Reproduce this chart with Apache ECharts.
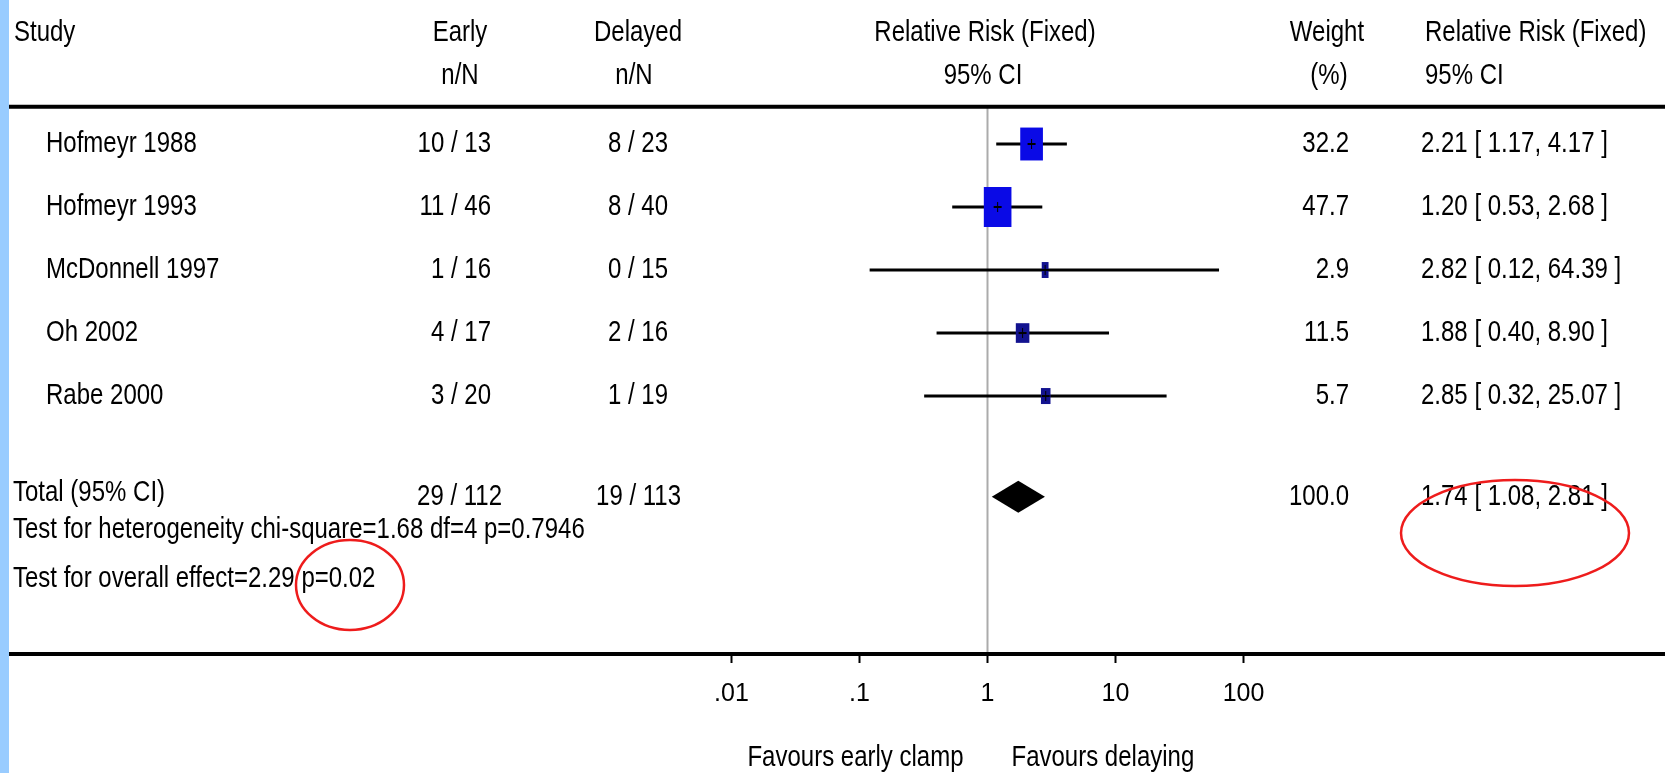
<!DOCTYPE html>
<html><head><meta charset="utf-8">
<script src="https://cdn.jsdelivr.net/npm/echarts@6/dist/echarts.min.js"></script>
<style>html,body{margin:0;padding:0;background:#fff}#c{width:1665px;height:773px}</style>
</head><body><div id="c"></div>
<script>
// ---- data ----
const studies = ['Hofmeyr 1988', 'Hofmeyr 1993', 'McDonnell 1997', 'Oh 2002', 'Rabe 2000'];
const earlyN = ['10 / 13', '11 / 46', '1 / 16', '4 / 17', '3 / 20'];
const delayedN = ['8 / 23', '8 / 40', '0 / 15', '2 / 16', '1 / 19'];
const rr = [2.21, 1.20, 2.82, 1.88, 2.85];
const rrLow = [1.17, 0.53, 0.12, 0.40, 0.32];
const rrHigh = [4.17, 2.68, 64.39, 8.90, 25.07];
const weights = [32.2, 47.7, 2.9, 11.5, 5.7];
const totalLabel = 'Total (95% CI)';
const totalEarly = '29 / 112';
const totalDelayed = '19 / 113';
const totalRR = [1.74];
const totalLow = [1.08];
const totalHigh = [2.81];
const totalWeight = [100.0];
const heterogeneityText = 'Test for heterogeneity chi-square=1.68 df=4 p=0.7946';
const overallText = 'Test for overall effect=2.29 p=0.02';
const headerRow1 = ['Study', 'Early', 'Delayed', 'Relative Risk (Fixed)', 'Weight', 'Relative Risk (Fixed)'];
const headerRow2 = ['', 'n/N', 'n/N', '95% CI', '(%)', '95% CI'];
const tickValues = [0.01, 0.1, 1, 10, 100];
const tickLabels = ['.01', '.1', '1', '10', '100'];
const favoursLeft = 'Favours early clamp';
const favoursRight = 'Favours delaying';

// ---- layout ----
const FAMILY = "'Liberation Sans', Arial, sans-serif";
const FONT = "24px " + FAMILY;
const TEXT_SCALE_Y = 1.2;
const ROW_TOTAL = studies.length + 0.6;
const ROW_HET = 6.12, ROW_OVR = 6.9, ROW_H1 = -1.76, ROW_H2 = -1.08, ROW_TOPRULE = -0.59, ROW_BOTRULE = 8.11;
const fmt2 = v => v.toFixed(2);
const ciText = (e, l, h) => fmt2(e) + ' [ ' + fmt2(l) + ', ' + fmt2(h) + ' ]';

function txt(x, y, s, align) {
  return {type: 'text', x: x, y: y, scaleY: TEXT_SCALE_Y, silent: true,
    style: {text: s, font: FONT, fill: '#000', align: align || 'left', verticalAlign: 'middle',
            textAlign: align || 'left', textVerticalAlign: 'middle'}};
}

const chart = echarts.init(document.getElementById('c'), null, {renderer: 'canvas'});

const studyData = studies.map((s, i) => [rr[i], i, rrLow[i], rrHigh[i], weights[i]]);

const option = {
  animation: false,
  backgroundColor: '#fff',
  grid: {left: 731.5, right: 421.5, top: 18, bottom: 118, containLabel: false},
  xAxis: {
    type: 'log', logBase: 10, min: 0.01, max: 100,
    axisLine: {show: false, onZero: false},
    splitLine: {show: false},
    axisTick: {show: false},
    axisLabel: {
      margin: 27, color: '#000', fontSize: 25, fontFamily: FAMILY,
      formatter: v => tickLabels[Math.round(Math.log10(v)) + 2]
    }
  },
  yAxis: {type: 'value', inverse: true, min: -2, max: ROW_BOTRULE, show: false},
  series: [
    { // frame rules, axis ticks and reference line at RR = 1
      type: 'custom', silent: true, z: 1,
      data: [[1, 0]],
      renderItem: (params, api) => {
        const yTop = api.coord([1, ROW_TOPRULE])[1];
        const yBot = api.coord([1, ROW_BOTRULE])[1];
        const x1 = api.coord([1, 0])[0];
        const ch = [
          {type: 'line', shape: {x1: x1, y1: yTop, x2: x1, y2: yBot}, style: {stroke: '#ababab', lineWidth: 2}},
          {type: 'line', shape: {x1: 9, y1: yTop, x2: 1665, y2: yTop}, style: {stroke: '#000', lineWidth: 4}},
          {type: 'line', shape: {x1: 9, y1: yBot - 1, x2: 1665, y2: yBot - 1}, style: {stroke: '#000', lineWidth: 4}}
        ];
        tickValues.forEach(v => {
          const tx = api.coord([v, 0])[0];
          ch.push({type: 'line', shape: {x1: tx, y1: yBot, x2: tx, y2: yBot + 8}, style: {stroke: '#000', lineWidth: 2}});
        });
        return {type: 'group', children: ch};
      }
    },
    { // study CIs and weighted squares
      type: 'custom', z: 3,
      data: studyData,
      renderItem: (params, api) => {
        const row = api.value(1);
        const c = api.coord([api.value(0), row]);
        const l = api.coord([api.value(2), row]);
        const h = api.coord([api.value(3), row]);
        const w = 4 * Math.sqrt(api.value(4));
        const ht = Math.max(1.45 * w, 16);
        const col = api.value(4) > 20 ? '#0a0ae6' : '#12128f';
        return {type: 'group', children: [
          {type: 'line', shape: {x1: l[0], y1: c[1], x2: h[0], y2: c[1]}, style: {stroke: '#000', lineWidth: 3}},
          {type: 'rect', shape: {x: c[0] - w / 2, y: c[1] - ht / 2, width: w, height: ht}, style: {fill: col}},
          {type: 'line', shape: {x1: c[0] - 4, y1: c[1], x2: c[0] + 4, y2: c[1]}, style: {stroke: '#000', lineWidth: 2}},
          {type: 'line', shape: {x1: c[0], y1: c[1] - 5, x2: c[0], y2: c[1] + 5}, style: {stroke: '#000', lineWidth: 1}}
        ]};
      }
    },
    { // pooled diamond
      type: 'custom', z: 3,
      data: [[totalRR[0], ROW_TOTAL, totalLow[0], totalHigh[0]]],
      renderItem: (params, api) => {
        const row = api.value(1);
        const c = api.coord([api.value(0), row]);
        const l = api.coord([api.value(2), row]);
        const h = api.coord([api.value(3), row]);
        return {type: 'polygon', shape: {points: [[l[0], c[1]], [c[0], c[1] - 16], [h[0], c[1]], [c[0], c[1] + 16]]},
                style: {fill: '#000'}};
      }
    },
    { // table text
      type: 'custom', silent: true, z: 4,
      data: [[1, 0]],
      renderItem: (params, api) => {
        const Y = r => api.coord([1, r])[1];
        const x1 = api.coord([1, 0])[0];
        const ch = [];
        const h1 = Y(ROW_H1), h2 = Y(ROW_H2);
        ch.push(txt(14, h1, headerRow1[0]));
        ch.push(txt(460, h1, headerRow1[1], 'center'));
        ch.push(txt(460, h2, headerRow2[1], 'center'));
        ch.push(txt(638, h1, headerRow1[2], 'center'));
        ch.push(txt(634, h2, headerRow2[2], 'center'));
        ch.push(txt(985, h1, headerRow1[3], 'center'));
        ch.push(txt(983, h2, headerRow2[3], 'center'));
        ch.push(txt(1327, h1, headerRow1[4], 'center'));
        ch.push(txt(1329, h2, headerRow2[4], 'center'));
        ch.push(txt(1425, h1, headerRow1[5]));
        ch.push(txt(1425, h2, headerRow2[5]));
        studies.forEach((s, i) => {
          const y = Y(i);
          ch.push(txt(46, y, s));
          ch.push(txt(491, y, earlyN[i], 'right'));
          ch.push(txt(668, y, delayedN[i], 'right'));
          ch.push(txt(1349, y, weights[i].toFixed(1), 'right'));
          ch.push(txt(1421, y, ciText(rr[i], rrLow[i], rrHigh[i])));
        });
        const yt = Y(ROW_TOTAL);
        ch.push(txt(13, yt - 4, totalLabel));
        ch.push(txt(502, yt, totalEarly, 'right'));
        ch.push(txt(681, yt, totalDelayed, 'right'));
        ch.push(txt(1349, yt, totalWeight[0].toFixed(1), 'right'));
        ch.push(txt(1421, yt, ciText(totalRR[0], totalLow[0], totalHigh[0])));
        ch.push(txt(13, Y(ROW_HET), heterogeneityText));
        ch.push(txt(13, Y(ROW_OVR), overallText));
        ch.push(txt(x1 - 24, 758, favoursLeft, 'right'));
        ch.push(txt(x1 + 24, 758, favoursRight, 'left'));
        return {type: 'group', children: ch};
      }
    }
  ],
  graphic: [
    {type: 'rect', left: 0, top: 0, shape: {x: 0, y: 0, width: 9, height: 773}, style: {fill: '#99ccff'}, z: 10},
    {type: 'ellipse', shape: {cx: 350, cy: 585, rx: 54, ry: 45}, style: {fill: 'none', stroke: '#ee1c1c', lineWidth: 2.5}, z: 10},
    {type: 'ellipse', shape: {cx: 1515, cy: 533, rx: 114, ry: 53}, style: {fill: 'none', stroke: '#ee1c1c', lineWidth: 2.5}, z: 10}
  ]
};
chart.setOption(option);
</script>
</body></html>
